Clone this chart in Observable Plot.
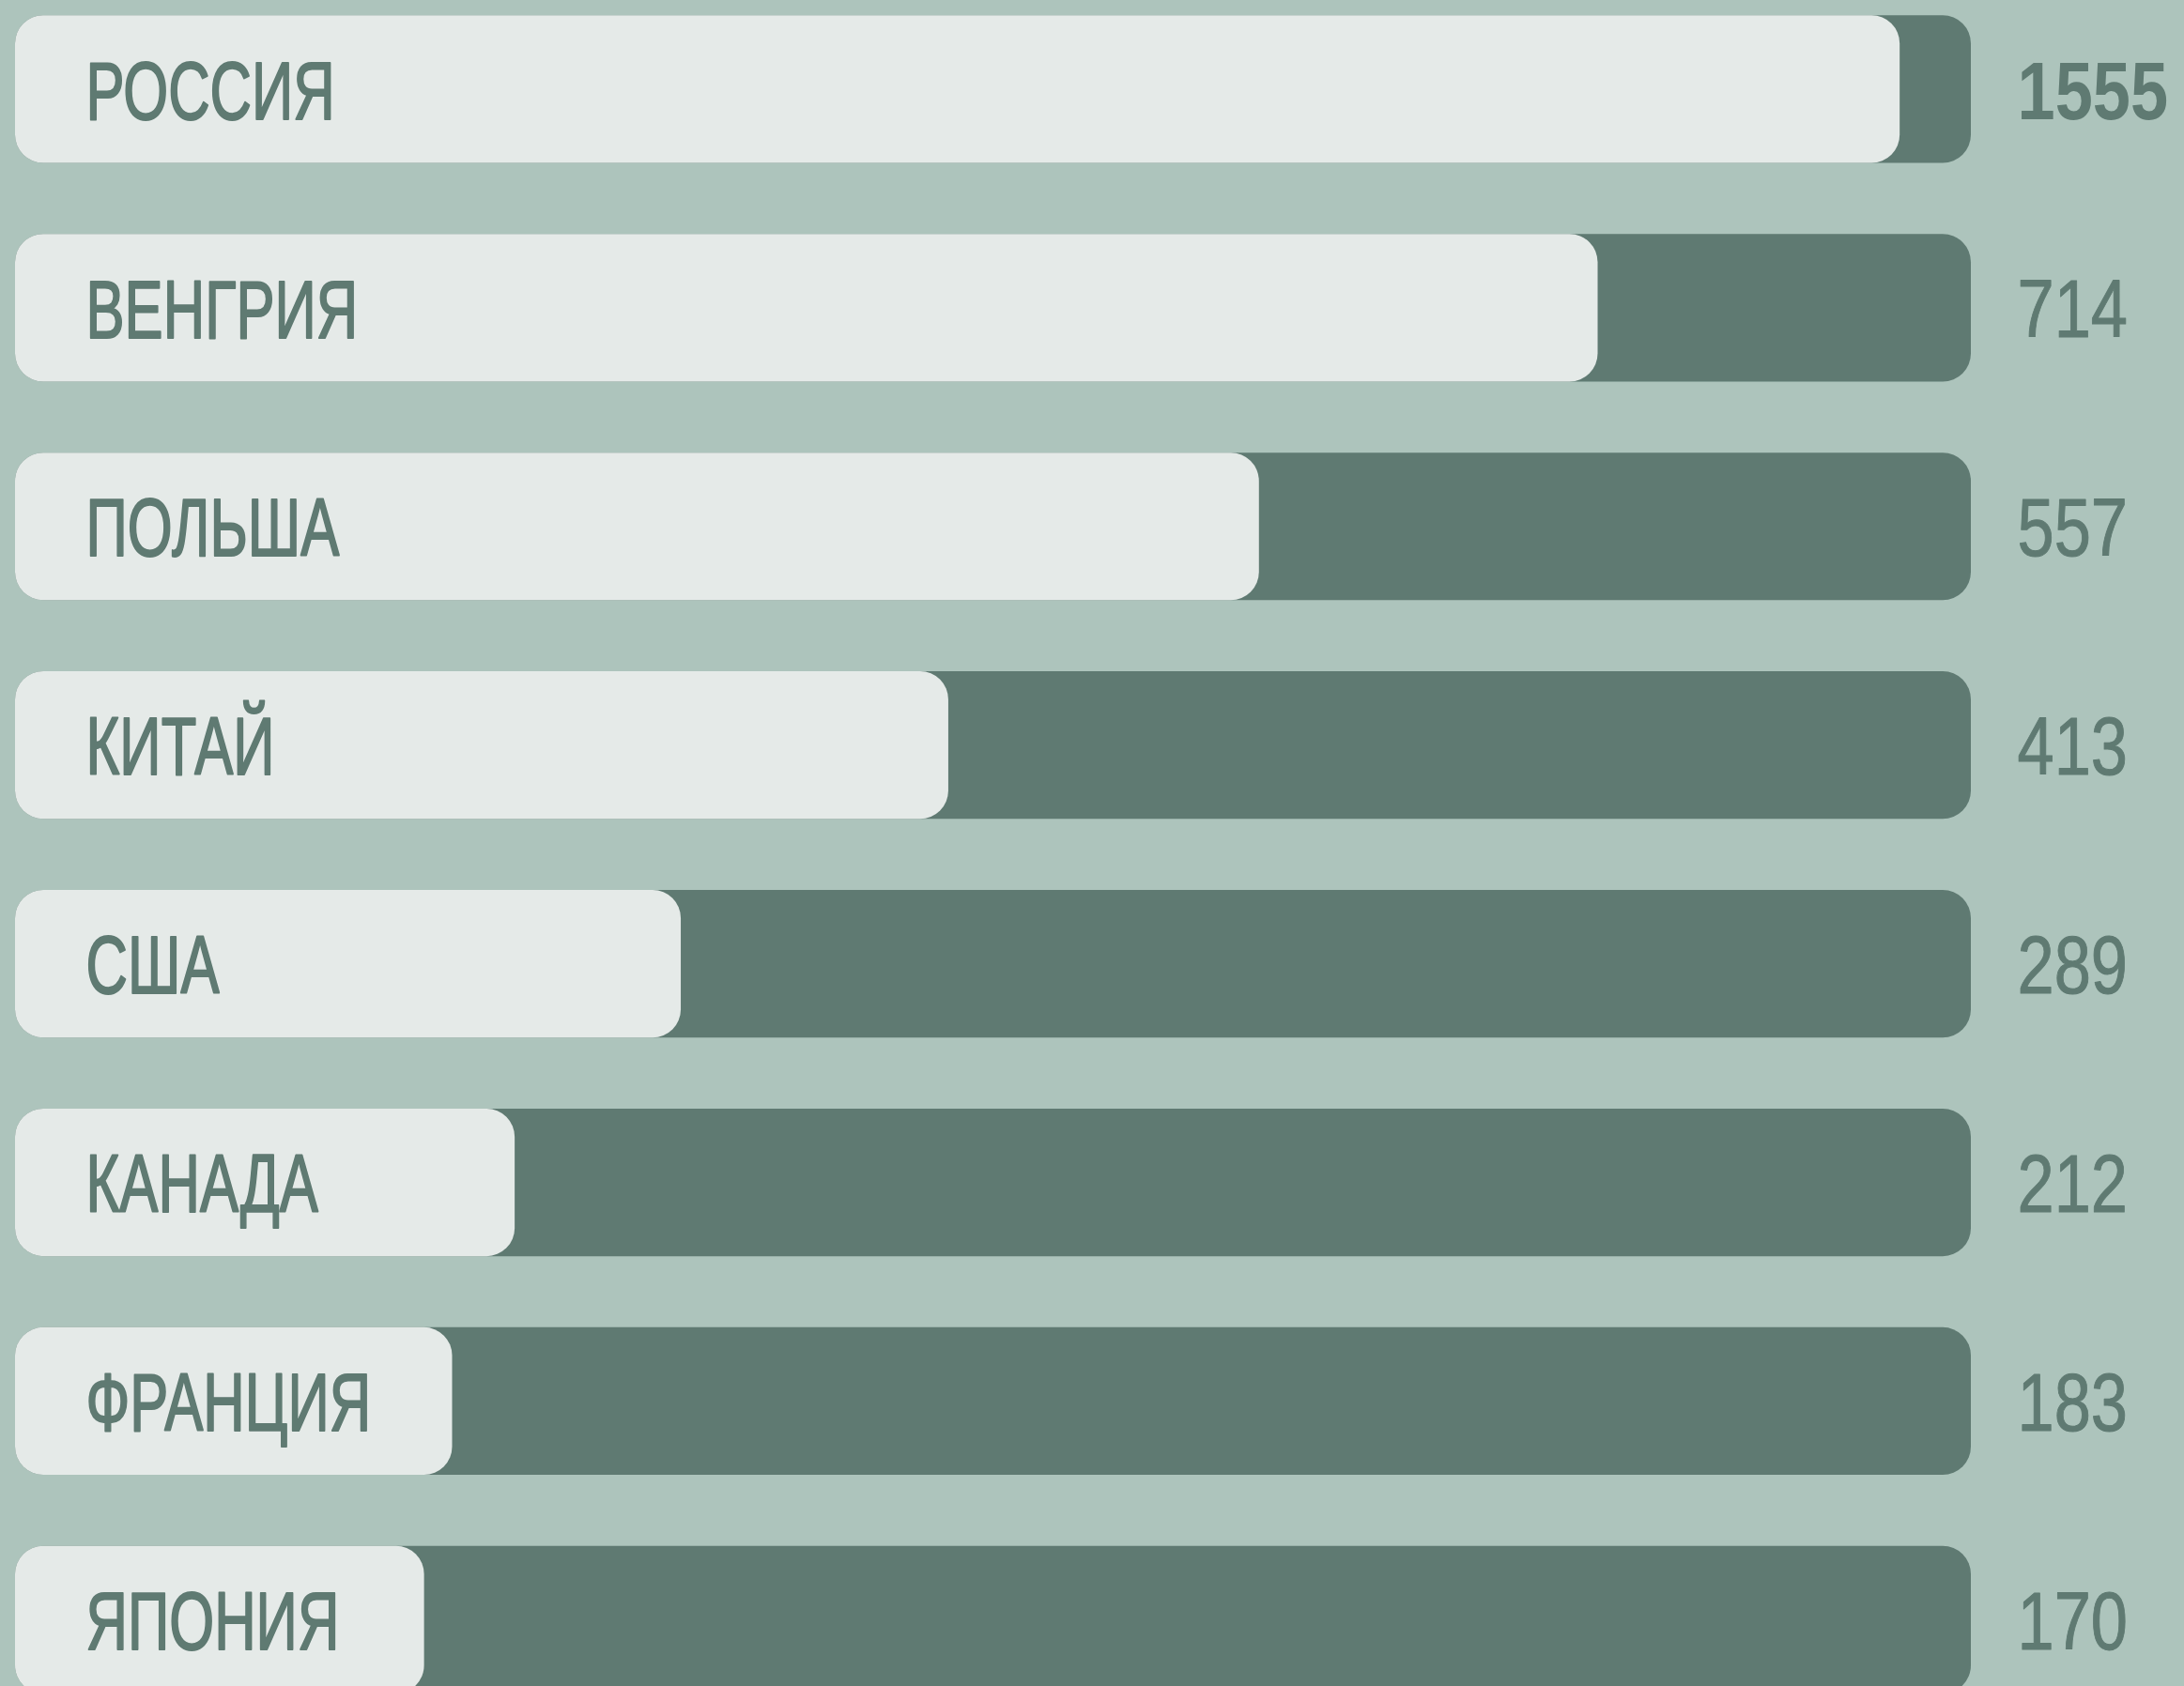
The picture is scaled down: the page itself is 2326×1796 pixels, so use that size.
<!DOCTYPE html>
<html><head><meta charset="utf-8">
<script src="https://cdn.jsdelivr.net/npm/d3@7"></script>
<script src="https://cdn.jsdelivr.net/npm/@observablehq/plot@0.6"></script>
<style>html,body{margin:0;padding:0;background:#adc4bc;overflow:hidden}</style>
</head><body><div id="chart"></div>
<script>
// Data
const countries = ["РОССИЯ", "ВЕНГРИЯ", "ПОЛЬША", "КИТАЙ", "США", "КАНАДА", "ФРАНЦИЯ", "ЯПОНИЯ"];
const values = [1555, 714, 557, 413, 289, 212, 183, 170];
const highlight = "РОССИЯ";

// Scale settings: track spans to trackEnd, the longest bar is broken at breakAt
const scaleStart = -19.6;
const trackEnd = 887;
const breakAt = 854;

const data = countries.map((c, i) => ({country: c, value: values[i]}));
const ink = "#5f7a72";
const font = '"Liberation Sans", Arial, Helvetica, sans-serif';

const chart = Plot.plot({
  width: 2326,
  height: 1796,
  margin: 0,
  style: {background: "#adc4bc", fontFamily: font, overflow: "hidden"},
  x: {domain: [scaleStart, trackEnd], range: [16, 2099], axis: null},
  y: {domain: countries, range: [16.3, 1804], paddingInner: 0.325, paddingOuter: 0, round: false, axis: null},
  marks: [
    Plot.barX(data, {x1: scaleStart, x2: trackEnd, y: "country", fill: ink, rx: 30}),
    Plot.barX(data, {x1: scaleStart, x2: d => Math.min(d.value, breakAt), y: "country", fill: "#e5eae8", rx: 30}),
    Plot.text(data, {x: scaleStart, y: "country", text: "country", textAnchor: "start", dx: 75, dy: 3, fontSize: 88, fill: ink, stroke: ink, strokeWidth: 2}),
    Plot.text(data, {filter: d => d.country !== highlight, x: trackEnd, y: "country", text: d => String(d.value), textAnchor: "start", dx: 49, dy: 3, fontSize: 88, fill: ink, stroke: ink, strokeWidth: 1}),
    Plot.text(data, {filter: d => d.country === highlight, x: trackEnd, y: "country", text: d => String(d.value), textAnchor: "start", dx: 49, dy: 3, fontSize: 88, fontWeight: "bold", fill: ink})
  ]
});

// Condensed lettering: narrow the glyphs horizontally around each text's anchor
function condense(group, k) {
  group.querySelectorAll("text").forEach(el => {
    const t = el.getAttribute("transform") || "";
    const x = parseFloat(el.getAttribute("x") || 0);
    el.setAttribute("transform", `${t} translate(${x},0) scale(${k},1) translate(${-x},0)`);
  });
}
const groups = chart.querySelectorAll('g[aria-label="text"]');
if (groups.length >= 3) {
  condense(groups[0], 0.70);
  condense(groups[1], 0.80);
  condense(groups[2], 0.82);
}
document.getElementById("chart").appendChild(chart);
</script>
</body></html>
